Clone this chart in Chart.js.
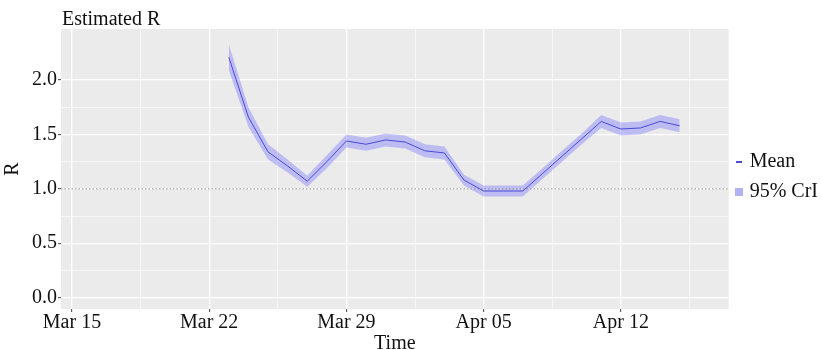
<!DOCTYPE html>
<html>
<head>
<meta charset="utf-8">
<script src="https://cdn.jsdelivr.net/npm/chart.js@4/dist/chart.umd.min.js"></script>
<style>
  html, body { margin: 0; padding: 0; background: #fff; }
  #rChart { display: block; }
</style>
</head>
<body>
<canvas id="rChart" width="822" height="350"></canvas>
<script>
// dates of the estimates
const dates = [
  "2020-03-23", "2020-03-24", "2020-03-25", "2020-03-26", "2020-03-27", "2020-03-28",
  "2020-03-29", "2020-03-30", "2020-03-31", "2020-04-01", "2020-04-02", "2020-04-03",
  "2020-04-04", "2020-04-05", "2020-04-06", "2020-04-07", "2020-04-08", "2020-04-09",
  "2020-04-10", "2020-04-11", "2020-04-12", "2020-04-13", "2020-04-14", "2020-04-15",
];
const meanR = [
  2.21, 1.66, 1.34, 1.21, 1.07, 1.25, 1.44, 1.41, 1.45, 1.43, 1.35, 1.33,
  1.08, 0.98, 0.98, 0.98, 1.14, 1.30, 1.46, 1.62, 1.55, 1.56, 1.62, 1.58,
];
const upperR = [
  2.33, 1.75, 1.41, 1.27, 1.12, 1.31, 1.50, 1.47, 1.51, 1.49, 1.41, 1.39,
  1.13, 1.03, 1.03, 1.03, 1.19, 1.35, 1.51, 1.68, 1.61, 1.62, 1.68, 1.64,
];
const lowerR = [
  2.09, 1.57, 1.27, 1.15, 1.02, 1.19, 1.38, 1.35, 1.39, 1.37, 1.29, 1.27,
  1.03, 0.93, 0.93, 0.93, 1.09, 1.25, 1.41, 1.56, 1.49, 1.50, 1.56, 1.52,
];
const refLine = 1;

const xTickDates = ["2020-03-15", "2020-03-22", "2020-03-29", "2020-04-05", "2020-04-12"];
const xTickLabels = ["Mar 15", "Mar 22", "Mar 29", "Apr 05", "Apr 12"];
const yTickValues = [0, 0.5, 1, 1.5, 2];
const yTickLabels = ["0.0", "0.5", "1.0", "1.5", "2.0"];

const DAY = 86400000;
const origin = Date.parse("2020-03-15");
const toDay = (d) => (Date.parse(d) - origin) / DAY;

const xMin = -0.56, xMax = 33.5;
const yMin = -0.105, yMax = 2.47;

const lineColor = "#4a4ad6";
const bandColor = "rgba(105, 105, 255, 0.36)";
const serif = "'Liberation Serif', 'Times New Roman', serif";

const xMajor = xTickDates.map(toDay);
const xMinor = xMajor.slice(0, -1).map((v, i) => (v + xMajor[i + 1]) / 2).concat([xMajor[xMajor.length - 1] + 3.5]);
const yMinor = yTickValues.slice(0, -1).map((v, i) => (v + yTickValues[i + 1]) / 2);

const points = (vals) => dates.map((d, i) => ({ x: toDay(d), y: vals[i] }));

function swatch(w, h, color) {
  const c = document.createElement("canvas");
  c.width = w;
  c.height = h;
  const g = c.getContext("2d");
  g.fillStyle = color;
  g.fillRect(0, 0, w, h);
  return c;
}

const panelBg = {
  id: "panelBg",
  afterLayout(chart) {
    // ggplot centres the legend on the panel, not on the whole figure
    chart.legend.top -= 15;
    chart.legend.bottom -= 15;
  },
  beforeDraw(chart) {
    const { ctx, chartArea: a } = chart;
    ctx.save();
    ctx.fillStyle = "#ebebeb";
    ctx.fillRect(a.left, a.top, a.right - a.left, a.bottom - a.top);
    ctx.restore();
  },
  afterDraw(chart) {
    const { ctx, chartArea: a } = chart;
    ctx.save();
    ctx.font = "20px " + serif;
    ctx.fillStyle = "#111";
    ctx.textBaseline = "alphabetic";
    ctx.fillText("Estimated R", a.left + 1, a.top - 4);
    ctx.restore();
  },
};

const gridOpts = (isMajor) => ({
  color: "#ffffff",
  lineWidth: (ctx) => (ctx.tick && isMajor(ctx.tick.value) ? 1.3 : 0.6),
  tickColor: (ctx) => (ctx.tick && isMajor(ctx.tick.value) ? "#444" : "rgba(0,0,0,0)"),
  tickLength: 3,
  tickWidth: 1,
});

new Chart(document.getElementById("rChart"), {
  type: "line",
  data: {
    datasets: [
      {
        label: "Mean",
        data: points(meanR),
        borderColor: lineColor,
        borderWidth: 1,
        pointRadius: 0,
        tension: 0,
        order: 0,
      },
      {
        label: "ref",
        data: [{ x: xMin, y: refLine }, { x: xMax, y: refLine }],
        borderColor: "#8a8a8a",
        borderWidth: 1,
        borderDash: [1.5, 2],
        pointRadius: 0,
        order: 1,
      },
      {
        label: "upper",
        data: points(upperR),
        borderWidth: 0,
        pointRadius: 0,
        backgroundColor: bandColor,
        fill: "+1",
        order: 2,
      },
      {
        label: "lower",
        data: points(lowerR),
        borderWidth: 0,
        pointRadius: 0,
        fill: false,
        order: 3,
      },
    ],
  },
  options: {
    responsive: false,
    devicePixelRatio: 1,
    animation: false,
    layout: { padding: { left: 1, right: -6, top: 29, bottom: -4 } },
    plugins: {
      title: { display: false },
      tooltip: { enabled: false },
      legend: {
        position: "right",
        labels: {
          usePointStyle: true,
          boxWidth: 1,
          boxHeight: 10,
          font: { family: serif, size: 20 },
          color: "#111",
          padding: 10,
          generateLabels: () => [
            { text: "Mean", pointStyle: swatch(6, 2, lineColor), fillStyle: lineColor, strokeStyle: lineColor, lineWidth: 0, fontColor: "#111", datasetIndex: 0 },
            { text: "95% CrI", pointStyle: swatch(8, 8, "rgba(178,178,242,1)"), fillStyle: bandColor, strokeStyle: bandColor, lineWidth: 0, fontColor: "#111", datasetIndex: 2 },
          ],
        },
      },
    },
    scales: {
      x: {
        type: "linear",
        min: xMin,
        max: xMax,
        afterBuildTicks: (scale) => {
          scale.ticks = xMajor.concat(xMinor).sort((a, b) => a - b).map((v) => ({ value: v }));
        },
        ticks: {
          autoSkip: false,
          maxRotation: 0,
          padding: 1,
          color: "#111",
          font: { family: serif, size: 20, lineHeight: 1 },
          callback: (v) => {
            const i = xMajor.indexOf(v);
            return i >= 0 ? xTickLabels[i] : "";
          },
        },
        grid: gridOpts((v) => xMajor.includes(v)),
        border: { display: false },
        title: {
          display: true,
          text: "Time",
          color: "#111",
          font: { family: serif, size: 20, lineHeight: 1 },
          padding: { top: 0, bottom: 0 },
        },
      },
      y: {
        min: yMin,
        max: yMax,
        afterBuildTicks: (scale) => {
          scale.ticks = yTickValues.concat(yMinor).sort((a, b) => a - b).map((v) => ({ value: v }));
        },
        ticks: {
          autoSkip: false,
          padding: 1,
          color: "#111",
          font: { family: serif, size: 20 },
          callback: (v) => {
            const i = yTickValues.indexOf(v);
            return i >= 0 ? yTickLabels[i] : "";
          },
        },
        grid: gridOpts((v) => yTickValues.includes(v)),
        border: { display: false },
        title: {
          display: true,
          text: "R",
          color: "#111",
          font: { family: serif, size: 20 },
          padding: { top: 0, bottom: 6 },
        },
      },
    },
  },
  plugins: [panelBg],
});
</script>
</body>
</html>
